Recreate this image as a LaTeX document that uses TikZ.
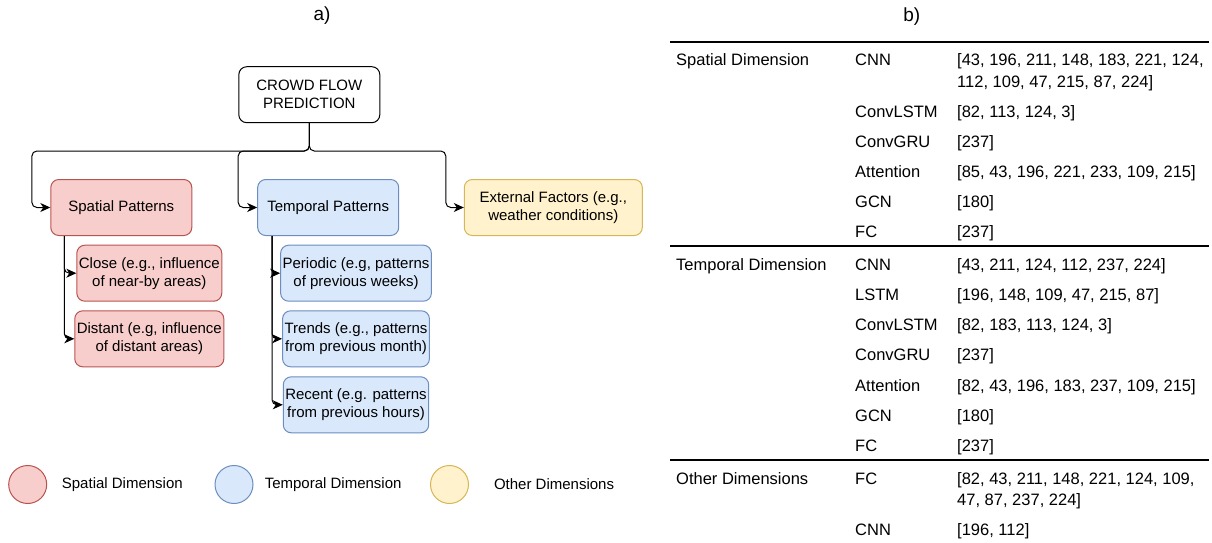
\documentclass[tikz,border=0pt]{standalone}
\usepackage{fontspec}
\setmainfont{Liberation Sans}
\usetikzlibrary{arrows.meta}

\definecolor{spfill}{HTML}{F8CECC}
\definecolor{spline}{HTML}{B85450}
\definecolor{tpfill}{HTML}{DAE8FC}
\definecolor{tpline}{HTML}{6C8EBF}
\definecolor{otfill}{HTML}{FFF2CC}
\definecolor{otline}{HTML}{D6B656}

\tikzset{
  pbox/.style={draw, rounded corners=8pt, line width=1pt, minimum width=141pt, minimum height=56pt,
    align=center, inner sep=2pt, font=\fontsize{15}{18}\selectfont},
  rootbox/.style={pbox, fill=white, draw=black},
  spbox/.style={pbox, fill=spfill, draw=spline},
  tpbox/.style={pbox, fill=tpfill, draw=tpline},
  otbox/.style={pbox, fill=otfill, draw=otline, minimum width=178pt},
  link/.style={draw, line width=1pt, rounded corners=5pt, -{Stealth[length=10pt,width=9pt,inset=3pt]}},
  legdot/.style={circle, draw, line width=1pt, minimum size=38pt, inner sep=0pt},
  legtext/.style={anchor=west, inner sep=0pt, font=\fontsize{15}{18}\selectfont},
  panel/.style={font=\fontsize{19}{22}\selectfont},
  cell/.style={anchor=base west, inner sep=0pt, align=left, font=\fontsize{16.5}{21}\selectfont},
  toprl/.style={line width=2.5pt},
  midrl/.style={line width=1.8pt}
}

\begin{document}
\begin{tikzpicture}[x=1pt, y=-1pt]
    \useasboundingbox (0,0) rectangle (1212,543);

    % panel titles
    \node[panel] (titlea) at (322,16) {a)};
    \node[panel] (titleb) at (911.7,17) {b)};

    % Taxonomy tree
    \node[rootbox] (crowd) at (309.3,94.7) {CROWD FLOW\\PREDICTION};
    \node[spbox] (spatial) at (121.3,207.5) {Spatial Patterns};
    \node[tpbox] (temporal) at (328.2,207.5) {Temporal Patterns};
    \node[otbox] (external) at (553.3,207.5) {External Factors (e.g.,\\weather conditions)};

    % Spatial children
    \node[spbox] (close) at (149.3,273.2) {Close (e.g., influence\\of near-by areas)};
    \node[spbox] (distant) at (149.3,338.8) {Distant (e.g, influence\\of distant areas)};

    % Temporal children
    \node[tpbox] (periodic) at (356,273.2) {Periodic (e.g, patterns\\of previous weeks)};
    \node[tpbox] (trends) at (356,338.8) {Trends (e.g., patterns\\from previous month)};
    \node[tpbox] (recent) at (356,404.8) {Recent (e.g. patterns\\from previous hours)};

    % Links
    \coordinate (fork) at (309.3,151);
    \draw[link] (crowd.south) -- (fork) -| ([xshift=-18.4pt]spatial.west) -- (spatial.west);
    \draw[link] (crowd.south) -- (fork) -| ([xshift=-19pt]temporal.west) -- (temporal.west);
    \draw[link] (crowd.south) -- (fork) -| ([xshift=-18pt]external.west) -- (external.west);
    \draw[link] ([xshift=-57pt]spatial.south) |- (close.west);
    \draw[link] ([xshift=-57pt]spatial.south) |- (distant.west);
    \draw[link] ([xshift=-56.2pt]temporal.south) |- (periodic.west);
    \draw[link] ([xshift=-56.2pt]temporal.south) |- (trends.west);
    \draw[link] ([xshift=-56.2pt]temporal.south) |- (recent.west);

    % Legend
    \node[legdot, fill=spfill, draw=spline] (legsp) at (27.7,484.5) {};
    \node[legtext] (legsptxt) at (61.7,484.5) {Spatial Dimension};
    \node[legdot, fill=tpfill, draw=tpline] (legtp) at (234,484.5) {};
    \node[legtext] (legtptxt) at (264.6,484.5) {Temporal Dimension};
    \node[legdot, fill=otfill, draw=otline] (legot) at (449.5,484.5) {};
    \node[legtext] (legottxt) at (493.8,484.5) {Other Dimensions};

    % Table rules
    \draw[toprl] (670,42) -- (1209,42);
    \draw[midrl] (670,246) -- (1209,246);
    \draw[midrl] (670,460) -- (1209,460);

    % Spatial Dimension rows
    \node[cell] (sdim) at (676,66) {Spatial Dimension};
    \node[cell] (scnn) at (855,66) {CNN};
    \node[cell] (scnnref) at (957,87) {[43, 196, 211, 148, 183, 221, 124,\\112, 109, 47, 215, 87, 224]};
    \node[cell] (sclstm) at (855,117) {ConvLSTM};
    \node[cell] (sclstmref) at (957,117) {[82, 113, 124, 3]};
    \node[cell] (sgru) at (855,147) {ConvGRU};
    \node[cell] (sgruref) at (957,147) {[237]};
    \node[cell] (satt) at (855,177) {Attention};
    \node[cell] (sattref) at (957,177) {[85, 43, 196, 221, 233, 109, 215]};
    \node[cell] (sgcn) at (855,207) {GCN};
    \node[cell] (sgcnref) at (957,207) {[180]};
    \node[cell] (sfc) at (855,237) {FC};
    \node[cell] (sfcref) at (957,237) {[237]};

    % Temporal Dimension rows
    \node[cell] (tdim) at (676,270) {Temporal Dimension};
    \node[cell] (tcnn) at (855,270) {CNN};
    \node[cell] (tcnnref) at (957,270) {[43, 211, 124, 112, 237, 224]};
    \node[cell] (tlstm) at (855,300) {LSTM};
    \node[cell] (tlstmref) at (957,300) {[196, 148, 109, 47, 215, 87]};
    \node[cell] (tclstm) at (855,330) {ConvLSTM};
    \node[cell] (tclstmref) at (957,330) {[82, 183, 113, 124, 3]};
    \node[cell] (tgru) at (855,360) {ConvGRU};
    \node[cell] (tgruref) at (957,360) {[237]};
    \node[cell] (tatt) at (855,391) {Attention};
    \node[cell] (tattref) at (957,391) {[82, 43, 196, 183, 237, 109, 215]};
    \node[cell] (tgcn) at (855,421) {GCN};
    \node[cell] (tgcnref) at (957,421) {[180]};
    \node[cell] (tfc) at (855,451) {FC};
    \node[cell] (tfcref) at (957,451) {[237]};

    % Other Dimensions rows
    \node[cell] (odim) at (676,484) {Other Dimensions};
    \node[cell] (ofc) at (855,484) {FC};
    \node[cell] (ofcref) at (957,505) {[82, 43, 211, 148, 221, 124, 109,\\47, 87, 237, 224]};
    \node[cell] (ocnn) at (855,535) {CNN};
    \node[cell] (ocnnref) at (957,535) {[196, 112]};
\end{tikzpicture}
\end{document}
